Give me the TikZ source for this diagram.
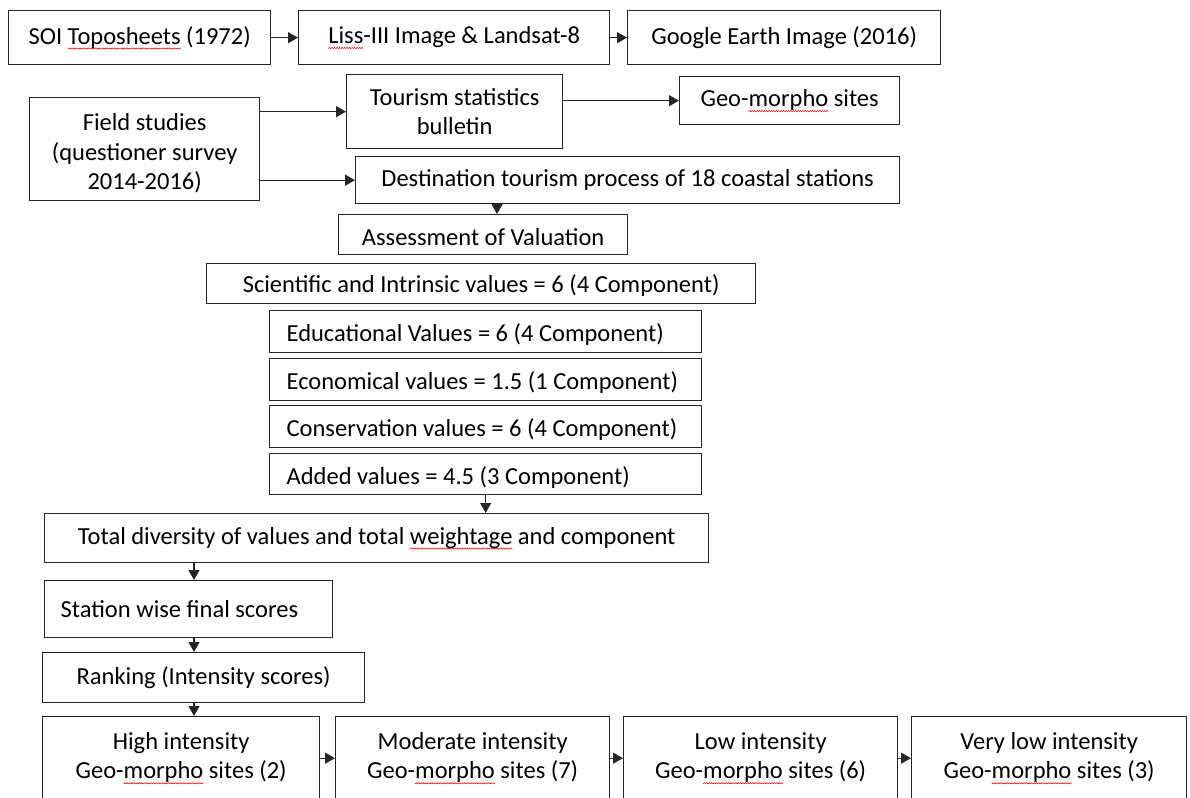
\documentclass[tikz,border=0pt]{standalone}
\usepackage{fontspec}
\setmainfont{Carlito}
\usetikzlibrary{arrows.meta}

% red spell-check wave under a word
\newcommand\wavebit{\begin{pgfpicture}%
  \pgfsetlinewidth{0.55pt}\pgfsetstrokecolor{red}%
  \pgfpathmoveto{\pgfpoint{0pt}{-0.6pt}}\pgfpathlineto{\pgfpoint{1.2pt}{0.6pt}}\pgfpathlineto{\pgfpoint{2.4pt}{-0.6pt}}%
  \pgfusepath{stroke}%
  \pgfresetboundingbox
  \pgfpathrectangle{\pgfpoint{0pt}{-0.6pt}}{\pgfpoint{2.4pt}{1.2pt}}\pgfusepath{use as bounding box}%
\end{pgfpicture}}
\newcommand\wavy[1]{\setbox0\hbox{#1}\rlap{\raisebox{-5pt}{\hbox to\wd0{\xleaders\hbox{\wavebit}\hfil}}}\box0\relax}

\tikzset{
  box/.style={draw=black!85, line width=1.3pt, anchor=north west, inner sep=0pt, align=center, font=\fontsize{24.5}{29.5}\selectfont},
  lbox/.style={box, align=flush left, inner xsep=17pt},
  valbox/.style={lbox, text width=398pt, text height=24pt},
  arr/.style={-{Triangle[length=10pt,width=11pt]}, line width=1.3pt, draw=black!85, fill=black!85}
}

\begin{document}
\begin{tikzpicture}[x=1pt,y=-1pt]
    \useasboundingbox (0,0) rectangle (1190,797);
    % sources
    \node[box, minimum width=262pt, minimum height=54pt] (soi) at (8,10) {SOI \wavy{Toposheets} (1972)};
    \node[box, minimum width=311pt, minimum height=54pt] (liss) at (298,10) {\wavy{Liss}-III Image \& Landsat-8};
    \node[box, minimum width=313pt, minimum height=54pt] (google) at (627,10) {Google Earth Image (2016)};
    \node[box, minimum width=230pt, minimum height=103pt] (field) at (29,97) {\rule{0pt}{26pt}Field studies\\(questioner survey\\2014-2016)};
    \node[box, minimum width=216pt, minimum height=74pt] (tour) at (346,74) {Tourism statistics\\bulletin};
    \node[box, minimum width=220pt, minimum height=48pt] (geo) at (679,76) {Geo-\wavy{morpho} sites};
    \node[box, minimum width=544pt, minimum height=47pt] (dest) at (355,156) {Destination tourism process of 18 coastal stations};
    % valuation
    \node[box, minimum width=289pt, minimum height=40pt, text height=22pt] (assess) at (338,214) {Assessment of Valuation};
    \node[box, minimum width=549pt, minimum height=40pt, text height=22pt] (sci) at (206,263) {Scientific and Intrinsic values = 6 (4 Component)};
    \node[valbox, minimum height=42pt] (edu) at (269,310) {Educational Values = 6 (4 Component)};
    \node[valbox, minimum height=42pt] (econ) at (269,358) {Economical values = 1.5 (1 Component)};
    \node[valbox, minimum height=42pt] (cons) at (269,405) {Conservation values = 6 (4 Component)};
    \node[valbox, minimum height=41pt] (added) at (269,453) {Added values = 4.5 (3 Component)};
    \node[box, minimum width=664pt, minimum height=49pt] (total) at (44,513) {Total diversity of values and total \wavy{weightage} and component};
    \node[lbox, inner xsep=16pt, text width=256pt, minimum height=57pt] (station) at (44,580) {Station wise final scores};
    \node[box, minimum width=322pt, minimum height=50pt] (rank) at (42,652) {Ranking (Intensity scores)};
    % intensity classes
    \node[box, minimum width=277pt, minimum height=83pt] (high) at (42,716) {High intensity\\Geo-\wavy{morpho} sites (2)};
    \node[box, minimum width=274pt, minimum height=83pt] (mod) at (335,716) {Moderate intensity\\Geo-\wavy{morpho} sites (7)};
    \node[box, minimum width=274pt, minimum height=83pt] (low) at (623,716) {Low intensity\\Geo-\wavy{morpho} sites (6)};
    \node[box, minimum width=275pt, minimum height=83pt] (vlow) at (911,716) {Very low intensity\\Geo-\wavy{morpho} sites (3)};

    \draw[arr] (soi) -- (liss);
    \draw[arr] (liss) -- (google);
    \draw[arr] (field.east |- tour) -- (tour.west);
    \draw[arr] (field.east |- dest) -- (dest.west);
    \draw[arr] (tour.east |- geo) -- (geo.west);
    \draw[arr] (dest.south -| 497,0) -- (assess.north -| 497,0);
    \draw[arr] (added.south) -- (total.north -| added.south);
    \draw[arr] (total.south -| 194,0) -- (station.north -| 194,0);
    \draw[arr] (station.south -| 194,0) -- (rank.north -| 194,0);
    \draw[arr] (rank.south -| 194,0) -- (high.north -| 194,0);
    \draw[arr] (high) -- (mod);
    \draw[arr] (mod) -- (low);
    \draw[arr] (low) -- (vlow);
\end{tikzpicture}
\end{document}
